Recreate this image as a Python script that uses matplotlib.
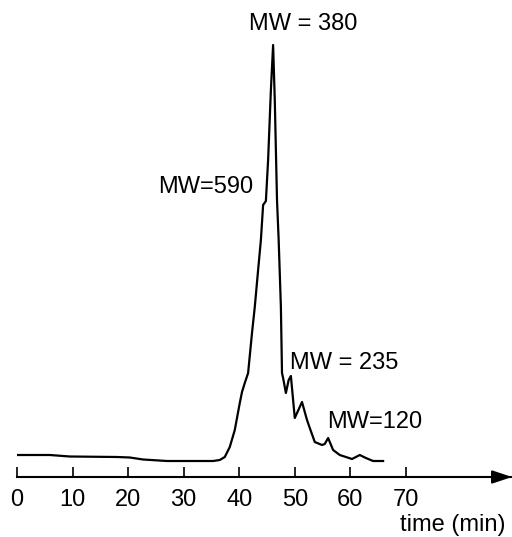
import matplotlib
matplotlib.use("Agg")
import matplotlib.pyplot as plt

plt.rcParams['font.family'] = ['Liberation Sans', 'DejaVu Sans']

# elution time (min) and detector response (arbitrary units, axis = 0)
time_min = [0.0, 5.9, 9.5, 18.0, 20.3, 22.7, 27.0, 35.3, 36.5, 37.4, 38.3, 39.2,
            40.1, 40.5, 41.0, 41.6, 42.3, 42.8, 43.4, 43.9, 44.3, 44.8, 45.2,
            45.7, 46.1, 46.4, 46.8, 47.1, 47.5, 47.7, 47.9, 48.4, 48.9, 49.3,
            50.0, 51.3, 52.2, 52.7, 53.6, 54.9, 55.4, 56.0, 56.9, 58.1, 60.3,
            61.0, 61.7, 62.8, 64.1, 65.9]
response = [22, 22, 20.5, 20, 19.5, 17.5, 16, 16, 17, 20, 30, 47,
            74, 85, 94, 104, 144, 170, 207, 237, 272, 276, 317,
            387, 432, 377, 277, 237, 170, 104, 99, 84, 97, 101,
            59, 75, 57, 49, 35, 32, 33, 39, 27, 22, 18,
            20, 22, 19, 16, 16]

tick_values = [0, 10, 20, 30, 40, 50, 60, 70]
tick_labels = ["0", "10", "20", "30", "40", "50", "60", "70"]

peak_labels = ["MW = 380", "MW=590", "MW = 235", "MW=120"]
label_time = [41.8, 25.4, 49.1, 55.8]
label_resp = [453, 290, 114, 55]

fig = plt.figure(figsize=(5.12, 5.37), dpi=100)
ax = fig.add_axes([17 / 512, 60 / 537, 495 / 512, 477 / 537])
ax.set_xlim(0, 89.1)
ax.set_ylim(0, 477)

ax.plot(time_min, response, color='black', lw=1.6, solid_joinstyle='round')

for s in ['top', 'right', 'left']:
    ax.spines[s].set_visible(False)
ax.spines['bottom'].set_linewidth(1.5)
ax.set_yticks([])
ax.set_xticks(tick_values)
ax.set_xticklabels(tick_labels)
ax.tick_params(axis='x', direction='in', length=7.5, width=1.2, pad=9,
               labelsize=17)

ax.annotate('', xy=(1.0, 0), xycoords='axes fraction',
            xytext=(0.96, 0), textcoords='axes fraction',
            arrowprops=dict(arrowstyle='-|>,head_length=0.6,head_width=0.2',
                            mutation_scale=20, lw=1.5, color='black',
                            shrinkA=0, shrinkB=0),
            annotation_clip=False)

ax.set_xlabel('time (min)', loc='right', fontsize=17)
ax.xaxis.set_label_coords((505 - 17) / 495, -0.078)

for txt, t, r in zip(peak_labels, label_time, label_resp):
    ax.text(t, r, txt, fontsize=17, ha='left', va='center')

fig.savefig('out.png', dpi=100)
